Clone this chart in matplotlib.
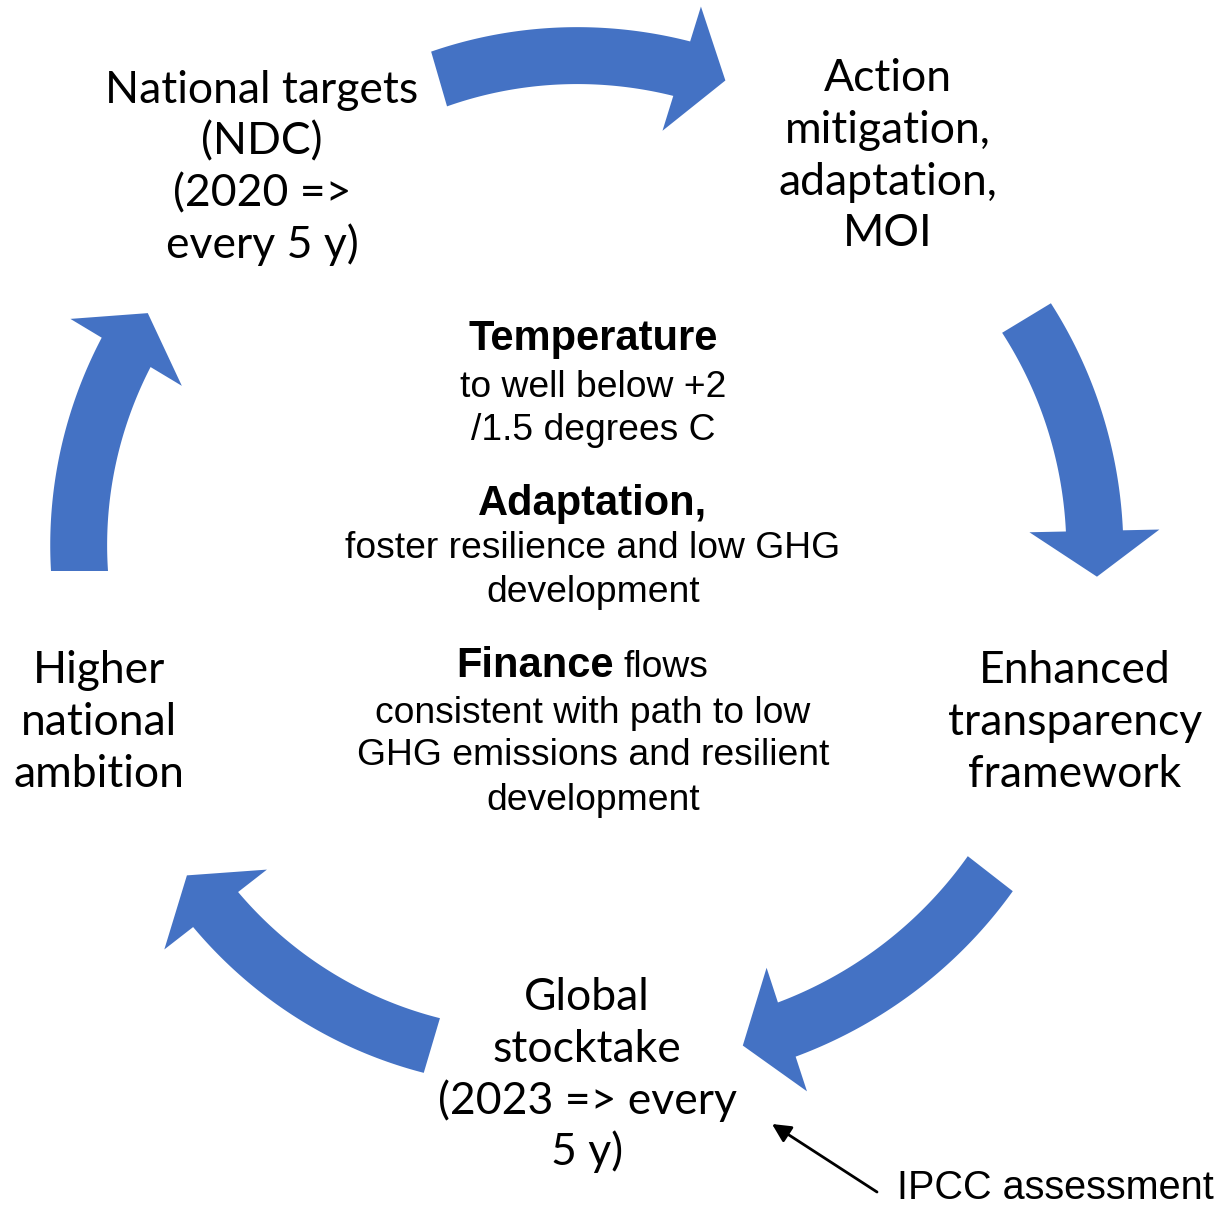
import numpy as np
import matplotlib.pyplot as plt
from matplotlib.patches import Polygon

BLUE = '#4472C4'

# labels of the five steps of the cycle
node_lines = [
    ['National targets', '(NDC)', '(2020 =>', 'every 5 y)'],
    ['Action', 'mitigation,', 'adaptation,', 'MOI'],
    ['Enhanced', 'transparency', 'framework'],
    ['Global', 'stocktake', '(2023 => every', '5 y)'],
    ['Higher', 'national', 'ambition'],
]

# text in the middle: (text, bold?)
centre_lines = [
    ('Temperature', True),
    ('to well below +2', False),
    ('/1.5 degrees C', False),
    ('Adaptation,', True),
    ('foster resilience and low GHG', False),
    ('development', False),
    (None, None),  # "Finance flows" line, mixed weight
    ('consistent with path to low', False),
    ('GHG emissions and resilient', False),
    ('development', False),
]
note_text = 'IPCC assessment'

# arrow arcs: centre, start/end angle (deg, clockwise on screen), outer radius at start/end
arrow_cx = [555, 660, 649, 549, 490]
arrow_cy = [478, 540, 608, 650, 571]
arrow_a0 = [-106.2, -31.2, 37.9, 106.5, 180.0]
arrow_a1 = [-72.8, -1.2, 71.9, 142.1, 211.0]
arrow_r0 = [444, 457, 461, 441, 439]
arrow_r1 = [457, 463, 472, 451, 453]


def arc_arrow(ax, cx, cy, a0, a1, r0, r1, width=57, head_half=65, head_deg=6):
    t = np.linspace(0, 1, 80)
    ang = np.radians(a0 + (a1 - a0) * t)
    r_out = r0 + (r1 - r0) * t
    r_in = r_out - width
    outer = np.column_stack([cx + r_out * np.cos(ang), cy + r_out * np.sin(ang)])
    inner = np.column_stack([cx + r_in * np.cos(ang), cy + r_in * np.sin(ang)])
    mid = r1 - width / 2
    ae, at = np.radians(a1), np.radians(a1 + head_deg)
    head = [
        (cx + (mid + head_half) * np.cos(ae), cy + (mid + head_half) * np.sin(ae)),
        (cx + (mid + 4) * np.cos(at), cy + (mid + 4) * np.sin(at)),
        (cx + (mid - head_half) * np.cos(ae), cy + (mid - head_half) * np.sin(ae)),
    ]
    pts = np.vstack([outer, head, inner[::-1]])
    ax.add_patch(Polygon(pts, closed=True, facecolor=BLUE, edgecolor='none'))


fig = plt.figure(figsize=(12.2, 12.08), dpi=100)
ax = fig.add_axes([0, 0, 1, 1])
ax.set_xlim(0, 1220)
ax.set_ylim(1208, 0)
ax.axis('off')

for i in range(5):
    arc_arrow(ax, arrow_cx[i], arrow_cy[i], arrow_a0[i], arrow_a1[i],
              arrow_r0[i], arrow_r1[i])

# step labels
node_x = [262, 888, 1075, 587, 99]
node_base = [103, 91, 683, 1010, 683]
for lines, x, y0 in zip(node_lines, node_x, node_base):
    for k, s in enumerate(lines):
        ax.text(x, y0 + k * 51.8, s, ha='center', va='baseline',
                fontsize=32, family='Lato', color='black')

# centre block
cx_text = 593
centre_base = [350, 397, 440, 515, 558, 602, 677, 723, 765, 810]
for (s, bold), y in zip(centre_lines, centre_base):
    if s is None:
        ax.text(614, y, 'Finance', ha='right', va='baseline', fontsize=30,
                fontweight='bold', family='Liberation Sans')
        ax.text(624, y, 'flows', ha='left', va='baseline', fontsize=26.8,
                family='Liberation Sans')
        continue
    ax.text(cx_text, y, s, ha='center', va='baseline',
            fontsize=30 if bold else 26.8,
            fontweight='bold' if bold else 'normal', family='Liberation Sans')

# IPCC note with pointer
ax.annotate('', xy=(772, 1124), xytext=(877, 1192),
            arrowprops=dict(arrowstyle='-|>', color='black', lw=2,
                            mutation_scale=28, shrinkA=0, shrinkB=0))
ax.text(897, 1199, note_text, ha='left', va='baseline', fontsize=28.5,
        family='Liberation Sans')

plt.savefig('out.png', dpi=100)
